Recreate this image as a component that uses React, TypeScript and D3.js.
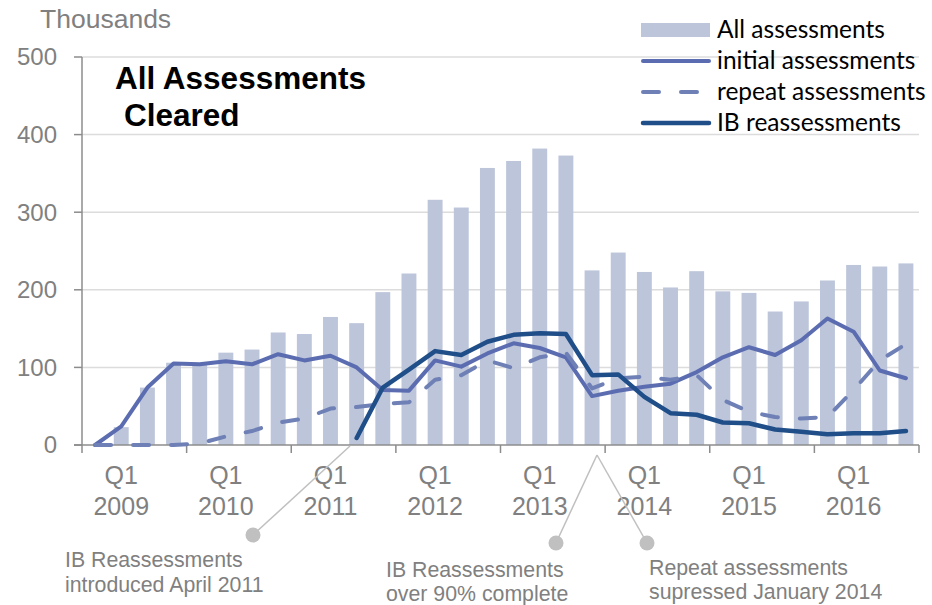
import React from 'react'
import * as d3 from 'd3'

// quarters, first one is a blank Q4 2008 slot like in the source chart
const quarters = [
  'Q4 2008',
  'Q1 2009', 'Q2 2009', 'Q3 2009', 'Q4 2009',
  'Q1 2010', 'Q2 2010', 'Q3 2010', 'Q4 2010',
  'Q1 2011', 'Q2 2011', 'Q3 2011', 'Q4 2011',
  'Q1 2012', 'Q2 2012', 'Q3 2012', 'Q4 2012',
  'Q1 2013', 'Q2 2013', 'Q3 2013', 'Q4 2013',
  'Q1 2014', 'Q2 2014', 'Q3 2014', 'Q4 2014',
  'Q1 2015', 'Q2 2015', 'Q3 2015', 'Q4 2015',
  'Q1 2016', 'Q2 2016', 'Q3 2016',
]

const allAssessments = [
  0, 23, 74, 106, 104, 119, 123, 145, 143, 165, 157, 197, 221, 316, 306, 357,
  366, 382, 373, 225, 248, 223, 203, 224, 198, 196, 172, 185, 212, 232, 230, 234,
]

const initialAssessments = [
  0, 24, 74, 105, 104, 108, 104, 117, 109, 115, 100, 71, 70, 109, 101, 118,
  131, 125, 113, 63, 70, 75, 79, 94, 113, 126, 116, 135, 163, 146, 96, 86,
]

const repeatAssessments = [
  0, 0, 0, 0, 2, 11, 18, 29, 34, 47, 49, 53, 55, 84, 90, 109,
  99, 113, 119, 73, 86, 88, 84, 90, 58, 43, 36, 34, 36, 71, 109, 130,
]

// IB reassessments only start in Q2 2011
const ibReassessments: (number | null)[] = [
  null, null, null, null, null, null, null, null, null, null, 9, 74, 97, 121, 116, 133,
  142, 144, 143, 90, 91, 62, 41, 39, 29, 28, 20, 17, 14, 15, 15, 18,
]

const yTicks = [0, 100, 200, 300, 400, 500]

const legendItems = [
  { label: 'All assessments', kind: 'bar' },
  { label: 'initial assessments', kind: 'initial' },
  { label: 'repeat assessments', kind: 'repeat' },
  { label: 'IB reassessments', kind: 'ib' },
]

const BAR = '#bcc5da'
const INITIAL = '#5b6db0'
const REPEAT = '#6e80b5'
const IB = '#1f4e88'
const GREY = '#808080'
const AXIS = '#8c8c8c'
const GRID = '#dcdcdc'
const ANNOT = '#c0c0c0'

const App = () => {
  const left = 82
  const right = 919
  const top = 57
  const bottom = 445

  const x = d3.scaleBand<string>().domain(quarters).range([left, right])
    .paddingInner(0.43).paddingOuter(0.215)
  const y = d3.scaleLinear().domain([0, 500]).range([bottom, top])
  const cx = (q: string) => (x(q) || 0) + x.bandwidth() / 2

  const lineGen = d3.line<number | null>()
    .defined((d) => d !== null)
    .x((_, i) => cx(quarters[i]))
    .y((d) => y(d as number))

  // tick marks sit on the year boundaries, every 4th category edge
  const bounds = d3.range(0, quarters.length + 1, 4).map((i) => left + x.step() * i)
  const labelled = quarters.filter((q) => q.startsWith('Q1'))

  const sans = 'Liberation Sans, Arial, sans-serif'

  return (
    <svg width={932} height={605} style={{ position: 'absolute', left: 0, top: 0, background: '#fff' }}>
      <text x={40} y={28} fontFamily={sans} fontSize={26.5} fill={GREY}>Thousands</text>

      {yTicks.filter((t) => t > 0).map((t) => (
        <line key={'g' + t} x1={left} x2={right} y1={y(t)} y2={y(t)} stroke={GRID} strokeWidth={1.5} />
      ))}

      {quarters.map((q, i) => allAssessments[i] > 0 && (
        <rect key={q} x={x(q)} y={y(allAssessments[i])} width={x.bandwidth()}
          height={bottom - y(allAssessments[i])} fill={BAR} />
      ))}

      {/* axes */}
      <line x1={left} x2={left} y1={top} y2={bottom} stroke={AXIS} strokeWidth={1.5} />
      {yTicks.map((t) => (
        <g key={'y' + t}>
          <line x1={left - 8} x2={left} y1={y(t)} y2={y(t)} stroke={AXIS} strokeWidth={1.5} />
          <text x={57} y={y(t)} dy="0.35em" textAnchor="end" fontFamily={sans} fontSize={24} fill={GREY}>{t}</text>
        </g>
      ))}
      <line x1={left - 8} x2={right} y1={bottom} y2={bottom} stroke={AXIS} strokeWidth={1.5} />
      {bounds.map((b) => (
        <line key={'b' + b} x1={b} x2={b} y1={bottom} y2={bottom + 8} stroke={AXIS} strokeWidth={1.5} />
      ))}
      {labelled.map((q) => {
        const [qq, yr] = q.split(' ')
        return (
          <text key={'x' + q} x={cx(q)} textAnchor="middle" fontFamily={sans} fontSize={25} fill={GREY}>
            <tspan x={cx(q)} y={484}>{qq}</tspan>
            <tspan x={cx(q)} y={515}>{yr}</tspan>
          </text>
        )
      })}

      {/* series */}
      <path d={lineGen(initialAssessments) || ''} fill="none" stroke={INITIAL} strokeWidth={4} strokeLinejoin="round" strokeLinecap="round" />
      <path d={lineGen(repeatAssessments) || ''} fill="none" stroke={REPEAT} strokeWidth={4} strokeDasharray="16 22" strokeLinejoin="round" strokeLinecap="round" />
      <path d={lineGen(ibReassessments) || ''} fill="none" stroke={IB} strokeWidth={4.5} strokeLinejoin="round" strokeLinecap="round" />

      {/* title */}
      <text fontFamily={sans} fontSize={31.5} fontWeight="bold" fill="#000">
        <tspan x={115} y={89}>All Assessments</tspan>
        <tspan x={124} y={126}>Cleared</tspan>
      </text>

      {/* legend */}
      {legendItems.map((it, i) => {
        const ly = 30 + i * 31
        return (
          <g key={it.label}>
            {it.kind === 'bar' && <rect x={641} y={ly - 7} width={69} height={14} fill={BAR} />}
            {it.kind === 'initial' && <line x1={643} x2={709} y1={ly} y2={ly} stroke={INITIAL} strokeWidth={4} strokeLinecap="round" />}
            {it.kind === 'repeat' && <line x1={643} x2={709} y1={ly} y2={ly} stroke={REPEAT} strokeWidth={4} strokeDasharray="16 22" strokeLinecap="round" />}
            {it.kind === 'ib' && <line x1={643} x2={709} y1={ly} y2={ly} stroke={IB} strokeWidth={4.5} strokeLinecap="round" />}
            <text x={717} y={ly + 8} fontFamily="Lato, sans-serif" fontSize={24.5} fill="#000">{it.label}</text>
          </g>
        )
      })}

      {/* callouts */}
      <line x1={253} y1={535} x2={350} y2={446} stroke={ANNOT} strokeWidth={1.5} />
      <line x1={556} y1={543} x2={597} y2={455} stroke={ANNOT} strokeWidth={1.5} />
      <line x1={647} y1={543} x2={597} y2={455} stroke={ANNOT} strokeWidth={1.5} />
      <circle cx={253} cy={535} r={7.5} fill={ANNOT} />
      <circle cx={556} cy={543} r={7.5} fill={ANNOT} />
      <circle cx={647} cy={543} r={7.5} fill={ANNOT} />
      <text fontFamily={sans} fontSize={21.3} fill={GREY}>
        <tspan x={65} y={567}>IB Reassessments</tspan>
        <tspan x={65} y={592}>introduced April 2011</tspan>
      </text>
      <text fontFamily={sans} fontSize={21.3} fill={GREY}>
        <tspan x={386} y={577}>IB Reassessments</tspan>
        <tspan x={386} y={601}>over 90% complete</tspan>
      </text>
      <text fontFamily={sans} fontSize={21.3} fill={GREY}>
        <tspan x={649} y={575}>Repeat assessments</tspan>
        <tspan x={649} y={599}>supressed January 2014</tspan>
      </text>
    </svg>
  )
}

export default App
